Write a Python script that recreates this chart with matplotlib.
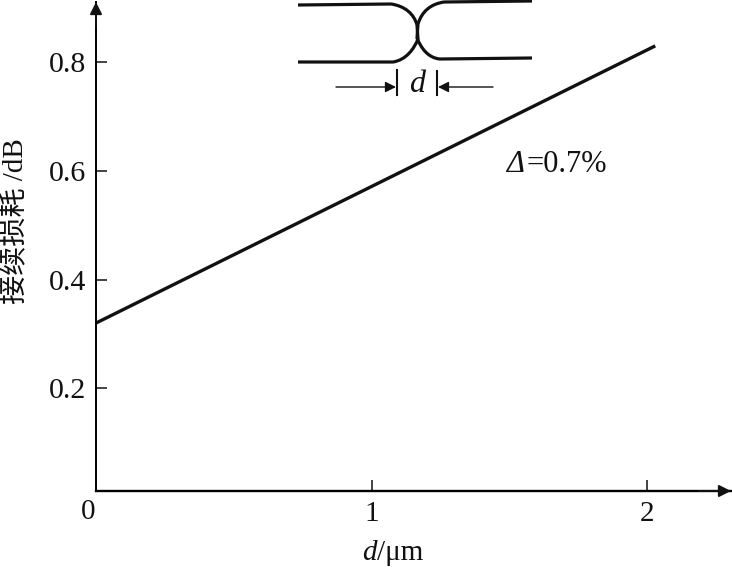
import matplotlib
matplotlib.use('Agg')
import matplotlib.pyplot as plt
from matplotlib.path import Path
from matplotlib.patches import PathPatch

plt.rcParams['font.family'] = ['Liberation Serif', 'Noto Sans CJK SC']

# values
d_um = [0, 2.03]
loss_db = [0.32, 0.83]
x_ticks = [1, 2]
y_ticks = [0.2, 0.4, 0.6, 0.8]
y_labels = ['0.2', '0.4', '0.6', '0.8']

W, H = 732, 567
fig = plt.figure(figsize=(W / 100, H / 100), dpi=100)

# axes box in pixels: left 96, right 731, top 2, bottom 491
ax = fig.add_axes([96 / W, 1 - 491 / H, (731 - 96) / W, (491 - 2) / H])
ax.set_xlim(0, (731 - 96) / 275.5)
ax.set_ylim(0.011, 0.011 + (491 - 2) / 543.5)
ax.patch.set_alpha(0)

ax.plot(d_um, loss_db, color='#111111', lw=2.4, solid_capstyle='butt')

ax.spines['right'].set_color('none')
ax.spines['top'].set_color('none')
ax.spines['left'].set_linewidth(1.4)
ax.spines['bottom'].set_linewidth(1.7)

ax.set_xticks(x_ticks)
ax.set_yticks(y_ticks)
ax.set_yticklabels(y_labels)
ax.tick_params(axis='x', direction='in', length=8, width=1.1, labelsize=21, pad=7,
               colors='#111111')
ax.tick_params(axis='y', direction='in', length=8, width=1.1, labelsize=21.5, pad=7,
               colors='#111111')

# axis arrow heads
ax.annotate('', xy=(1.0, 0), xytext=(0.95, 0), xycoords='axes fraction',
            arrowprops=dict(arrowstyle='-|>', color='#111111', lw=1.4, mutation_scale=18,
                            shrinkA=0, shrinkB=0))
ax.annotate('', xy=(0, 1.0), xytext=(0, 0.95), xycoords='axes fraction',
            arrowprops=dict(arrowstyle='-|>', color='#111111', lw=1.4, mutation_scale=18,
                            shrinkA=0, shrinkB=0))

fig.text(88 / W, 1 - 512 / H, '0', fontsize=21, ha='center', va='center', color='#111111')
fig.text(369 / W, 1 - 553 / H, 'd', fontsize=21, style='italic', ha='center', va='center',
         color='#111111')
fig.text(377 / W, 1 - 553 / H, '/μm', fontsize=21, ha='left', va='center', color='#111111')
fig.text(15 / W, 1 - 221 / H, '接续损耗 /dB', fontsize=21, rotation=90, ha='center',
         va='center', color='#111111')
fig.text(506 / W, 1 - 165 / H, 'Δ', fontsize=22, style='italic', ha='left', va='center',
         color='#111111')
fig.text(526 / W, 1 - 165 / H, '=0.7%', fontsize=22, ha='left', va='center', color='#111111')

# fibre splice sketch, drawn in picture pixels
sk = fig.add_axes([0, 0, 1, 1])
sk.set_xlim(0, W)
sk.set_ylim(H, 0)
sk.axis('off')
sk.patch.set_alpha(0)

codes = [Path.MOVETO, Path.LINETO, Path.CURVE4, Path.CURVE4, Path.CURVE4, Path.LINETO,
         Path.CURVE4, Path.CURVE4, Path.CURVE4, Path.LINETO]
left_fibre = [(298, 5), (391, 4), (405, 6), (414, 14), (417, 25), (418, 39),
              (414, 49), (406, 60), (393, 62), (298, 62)]
right_fibre = [(532, 1), (444, 2), (431, 4), (422, 11), (418, 24), (417, 38),
               (421, 48), (428, 58), (440, 59), (532, 58)]
for pts in (left_fibre, right_fibre):
    sk.add_patch(PathPatch(Path(pts, codes), fill=False, lw=2.3, ec='#111111'))

sk.plot([397, 397], [70, 95], color='#111111', lw=1.5)
sk.plot([437, 437], [71, 95], color='#111111', lw=1.5)
sk.annotate('', xy=(396, 87), xytext=(336, 87),
            arrowprops=dict(arrowstyle='-|>', color='#111111', lw=1.0, mutation_scale=16,
                            shrinkA=0, shrinkB=0))
sk.annotate('', xy=(438, 87), xytext=(493, 87),
            arrowprops=dict(arrowstyle='-|>', color='#111111', lw=1.0, mutation_scale=16,
                            shrinkA=0, shrinkB=0))
sk.text(417, 84, 'd', fontsize=23, style='italic', ha='center', va='center', color='#111111')

fig.savefig('out.png', dpi=100)
